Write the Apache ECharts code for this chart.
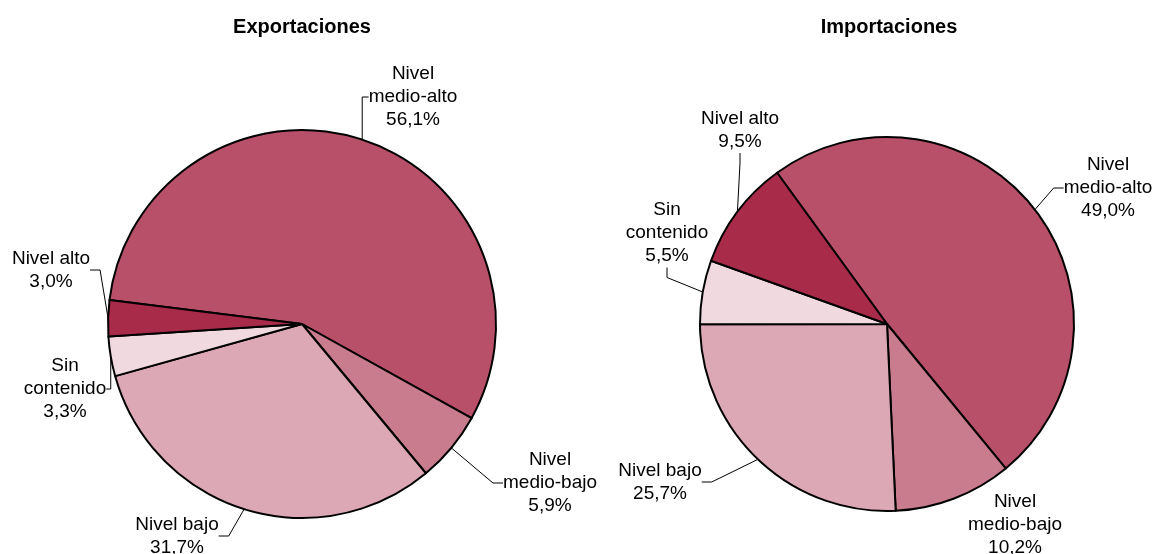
<!DOCTYPE html>
<html><head><meta charset="utf-8">
<script src="https://cdn.jsdelivr.net/npm/echarts@6/dist/echarts.min.js"></script>
<style>html,body{margin:0;padding:0;background:#fff}#c{width:1157px;height:554px}</style>
</head><body><div id="c"></div>
<script>
const categories = ['Nivel medio-alto','Nivel medio-bajo','Nivel bajo','Sin contenido','Nivel alto'];
const labelNames = ['Nivel\nmedio-alto','Nivel\nmedio-bajo','Nivel bajo','Sin\ncontenido','Nivel alto'];
const exportValues = [56.1, 5.9, 31.7, 3.3, 3.0];
const importValues = [49.0, 10.2, 25.7, 5.5, 9.5];
const colors = ['#B9506A','#C97C8E','#DCA8B5','#F1DADF','#A92B4A'];
const titles = ['Exportaciones','Importaciones'];

// label anchor spots (label centres) per slice
const exportLabelPos = [[413,97],[550,483],[177,536],[65,389],[51,270]];
const importLabelPos = [[1108,188],[1015,525],[660,482],[667,233],[740,130]];

function makeData(vals, showLine){
  return vals.map((v,i)=>({name:categories[i], value:v,
    itemStyle:{color:colors[i]},
    labelLine:{show:showLine[i]}}));
}
function fmt(p){
  return labelNames[p.dataIndex] + '\n' + p.value.toFixed(1).replace('.',',') + '%';
}
const FF = 'Liberation Sans, Arial, sans-serif';
const chart = echarts.init(document.getElementById('c'), null, {renderer:'canvas'});
const labelStyle = {show:true, formatter:fmt, color:'#000', fontFamily:FF,
  fontSize:19, lineHeight:23, align:'center', overflow:'none'};
chart.setOption({
  animation:false,
  title:[
    {text:titles[0], left:297, top:12, textAlign:'center', textStyle:{fontFamily:FF, fontSize:20, fontWeight:'bold', color:'#000'}},
    {text:titles[1], left:884, top:12, textAlign:'center', textStyle:{fontFamily:FF, fontSize:20, fontWeight:'bold', color:'#000'}}
  ],
  series:[
    {type:'pie', center:[302,324], radius:194, startAngle:172.9, clockwise:true,
     itemStyle:{borderColor:'#000', borderWidth:2},
     label:labelStyle, labelLine:{show:true, length:10, length2:10, smooth:false, lineStyle:{color:'#000', width:1}},
     labelLayout:function(p){const q=exportLabelPos[p.dataIndex];return {x:q[0], y:q[1], align:'center', verticalAlign:'middle'};},
     emphasis:{disabled:true},
     data:makeData(exportValues,[true,true,true,true,true])},
    {type:'pie', center:[887,324], radius:187, startAngle:126, clockwise:true,
     itemStyle:{borderColor:'#000', borderWidth:2},
     label:labelStyle, labelLine:{show:true, length:10, length2:10, smooth:false, lineStyle:{color:'#000', width:1}},
     labelLayout:function(p){const q=importLabelPos[p.dataIndex];return {x:q[0], y:q[1], align:'center', verticalAlign:'middle'};},
     emphasis:{disabled:true},
     data:makeData(importValues,[true,false,true,true,true])}
  ]
});
</script></body></html>
